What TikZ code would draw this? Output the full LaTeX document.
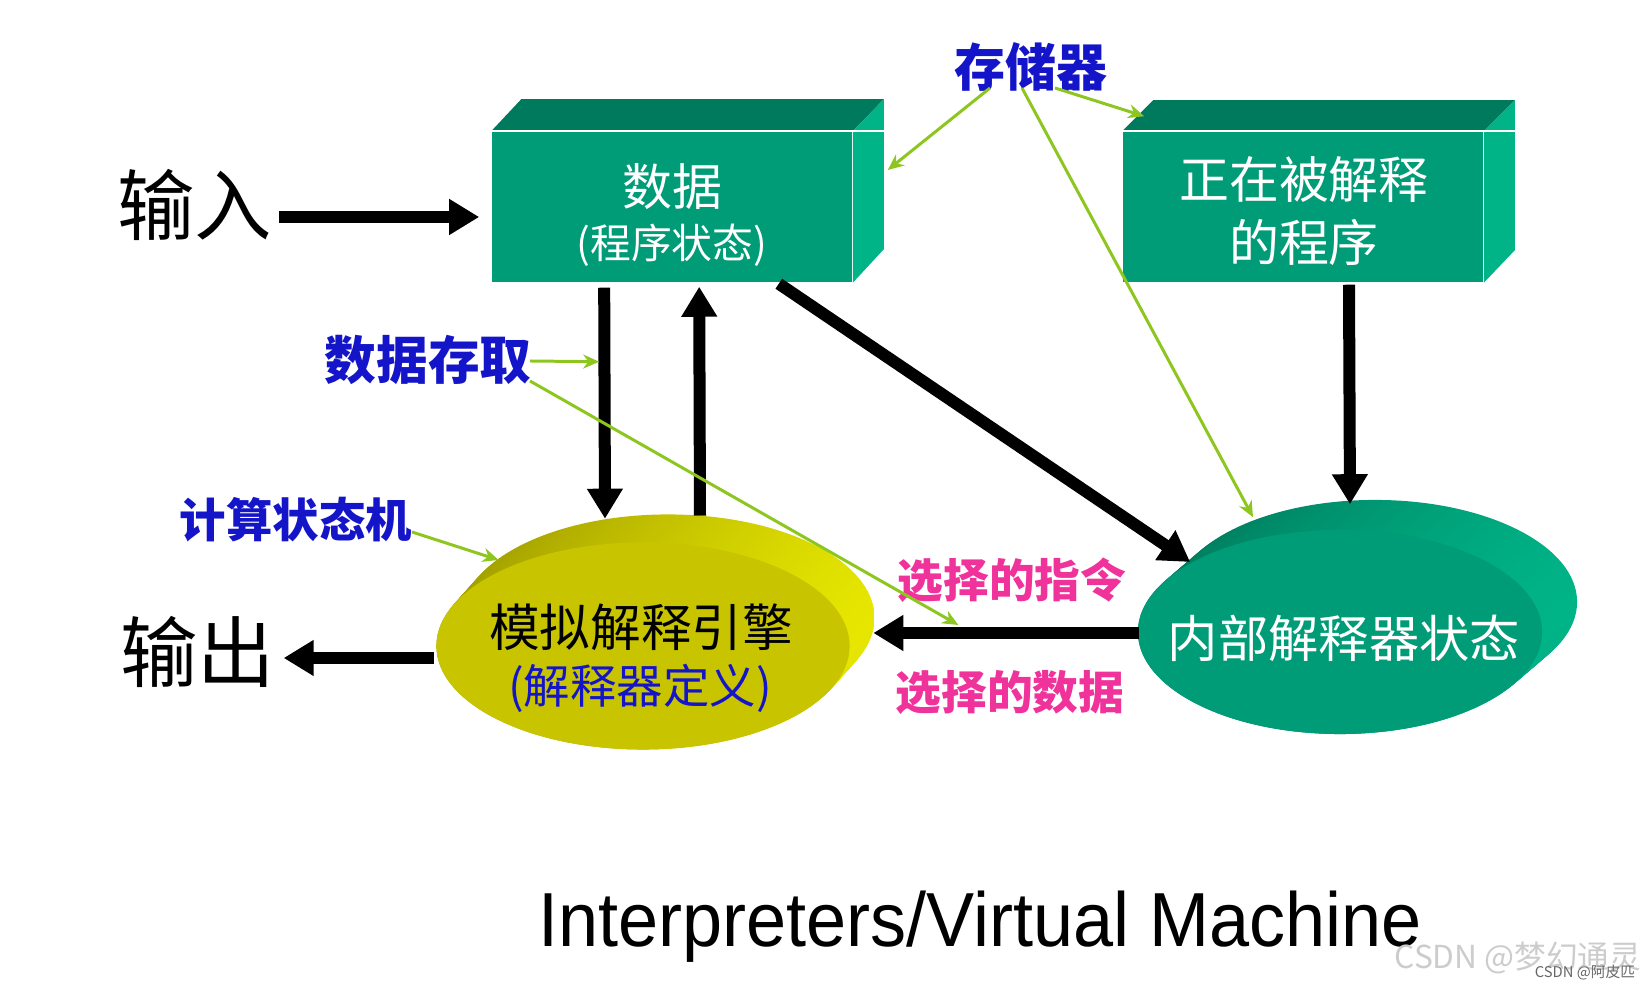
\documentclass[tikz,border=0pt]{standalone}
\usepackage{graphicx}
\usepackage{fontspec}
\setmainfont{Liberation Sans}
\newfontfamily\cjk{Noto Sans CJK SC}
\usetikzlibrary{arrows.meta,calc,shapes.geometric}

\definecolor{frontG}{RGB}{0,155,119}
\definecolor{topG}{RGB}{0,122,92}
\definecolor{sideG}{RGB}{0,180,135}
\definecolor{yelF}{RGB}{200,196,0}
\definecolor{yelD}{RGB}{160,156,0}
\definecolor{yelL}{RGB}{230,230,0}
\definecolor{lblue}{RGB}{20,20,200}
\definecolor{pinkc}{RGB}{240,50,155}
\definecolor{lgreen}{RGB}{141,198,31}

\begin{document}
\begin{tikzpicture}[x=0.01cm,y=-0.01cm,
  bigarr/.style={line width=0.12cm,-{Triangle[length=0.3cm,width=0.34cm]}},
  ptr/.style={draw=lgreen,line width=0.85pt,-{Stealth[length=0.16cm,width=0.14cm]}},
  boxface/.style={fill=frontG,minimum width=3.6cm,minimum height=1.5cm,inner sep=0},
  wtext/.style={text=white,inner sep=0,font=\cjk\fontsize{14.2}{17}\selectfont},
  big/.style={inner sep=0,font=\cjk\fontsize{22}{26}\selectfont},
  lbl/.style={inner sep=0,text=lblue,font=\cjk\bfseries\fontsize{14.5}{17}\selectfont},
  plbl/.style={inner sep=0,text=pinkc,font=\cjk\bfseries\fontsize{13}{16}\selectfont}
]
\useasboundingbox (0,0) rectangle (1650,989);

% ---------- box: data ----------
\node[boxface] (data) at (672,207) {};
\fill[topG] (data.north west) -- ++(30,-32) -- ($(data.north east)+(31,-32)$) -- (data.north east) -- cycle;
\fill[sideG] (data.north east) -- ++(31,-32) -- ++(0,150) -- (data.south east) -- cycle;
\draw[white,line width=0.5pt] (data.north west) -- ($(data.north east)+(31,0)$);
\node[wtext] (datat) at (672,187) {数据};
\node[wtext,font=\cjk\fontsize{11.6}{14}\selectfont] (datas) at (672,245) {(程序状态)};

% ---------- box: program ----------
\node[boxface] (prog) at (1303,207) {};
\fill[topG] (prog.north west) -- ++(31,-31) -- ($(prog.north east)+(31,-31)$) -- (prog.north east) -- cycle;
\fill[sideG] (prog.north east) -- ++(31,-31) -- ++(0,150) -- (prog.south east) -- cycle;
\draw[white,line width=0.5pt] (prog.north west) -- ($(prog.north east)+(31,0)$);
\node[wtext] (progt1) at (1304,180) {正在被解释};
\node[wtext] (progt2) at (1304,242) {的程序};

% ---------- disc: engine ----------
\coordinate (engc) at (643,646);
\foreach \i in {0,...,14}{
  \pgfmathsetmacro\t{1-\i/14}
  \shade[left color=yelD,middle color=yelD!85!yelL,right color=yelL]
    ($(engc)+({25*\t},{-28*\t})$) ellipse [x radius=2.065cm,y radius=1.035cm];
}
\node[ellipse,fill=yelF,minimum width=4.13cm,minimum height=2.07cm,inner sep=0] (eng) at (engc) {};
\node[big,font=\cjk\fontsize{14.4}{17}\selectfont] (engt) at (641,627) {模拟解释引擎};
\node[big,text=lblue,font=\cjk\fontsize{13.2}{16}\selectfont] (engs) at (640,688) {(解释器定义)};

% ---------- disc: internal state ----------
\coordinate (cstc) at (1340,632);
\foreach \i in {0,...,14}{
  \pgfmathsetmacro\t{1-\i/14}
  \shade[left color=topG,middle color=topG!80!sideG,right color=sideG]
    ($(cstc)+({35*\t},{-30*\t})$) ellipse [x radius=2.02cm,y radius=1.02cm];
}
\node[ellipse,fill=frontG,minimum width=4.04cm,minimum height=2.04cm,inner sep=0] (cst) at (cstc) {};
\node[wtext,font=\cjk\fontsize{14.3}{17}\selectfont] (cstt) at (1344,638) {内部解释器状态};

% ---------- input / output ----------
\node[big] (in) at (195,205) {输入};
\node[big] (out) at (198,652) {输出};
\draw[bigarr] ($(data.west)+(-212,10)$) -- ($(data.west)+(-12,10)$);
\draw[bigarr] ($(eng.west)+(-2,12)$) -- ($(eng.west)+(-152,12)$);

% ---------- black connectors ----------
\draw[bigarr] ($(data.south west)+(113,5)$) -- ($(eng.north)+(-38,-23)$);
\draw[bigarr] ($(eng.north)+(57,-26)$) -- ($(data.south west)+(208,4)$);
\draw[bigarr] ($(data.south east)+(-74,1)$) -- ($(cst.west)+(53,-70)$);
\draw[bigarr] ($(prog.south)+(46,2)$) -- ($(cst.north)+(10,-25)$);
\draw[bigarr] ($(cst.west)+(2,1)$) -- ($(eng.east)+(23,-13)$);

% ---------- labels ----------
\node[lbl] (mem) at (1031,67) {存储器};
\node[lbl,font=\cjk\bfseries\fontsize{14.7}{17}\selectfont] (acc) at (428,360) {数据存取};
\node[lbl,font=\cjk\bfseries\fontsize{13.2}{16}\selectfont] (fsm) at (296,520) {计算状态机};
\node[plbl] (selI) at (1012,580) {选择的指令};
\node[plbl] (selD) at (1010,692) {选择的数据};

% ---------- green pointers ----------
\draw[ptr] ($(mem.center)+(-41,21)$) -- ($(data.east)+(35,-37)$);
\draw[ptr] ($(mem.center)+(-9,21)$) -- ($(cst.north)+(-87,-12)$);
\draw[ptr] ($(mem.center)+(24,21)$) -- ($(prog.north west)+(22,-15)$);
\draw[ptr] ($(acc.center)+(102,1)$) -- ($(data.south west)+(108,79)$);
\draw[ptr] ($(acc.center)+(102,21)$) -- ($(eng.east)+(108,-21)$);
\draw[ptr] ($(fsm.center)+(116,12)$) -- ($(eng.west)+(63,-86)$);

% ---------- title and watermark ----------
\node[anchor=base,inner sep=0,font=\fontsize{21.8}{26}\selectfont] (title) at (980,947)
  {\scalebox{0.94}[1]{Interpreters/Virtual Machine}};
\node[inner sep=0,text=black!20,font=\cjk\fontsize{9}{11}\selectfont] (wm) at (1518,958) {CSDN @梦幻通灵};
\node[inner sep=0,text=black!60,font=\cjk\fontsize{4.2}{5}\selectfont] (wm2) at (1585,973) {CSDN @阿皮匹};
\end{tikzpicture}
\end{document}
